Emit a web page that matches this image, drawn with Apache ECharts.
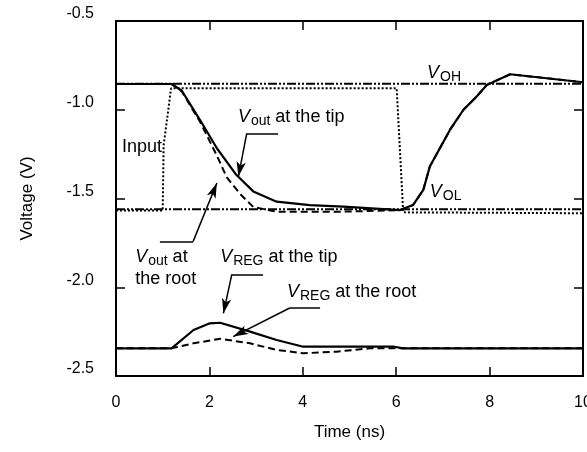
<!DOCTYPE html>
<html><head><meta charset="utf-8">
<script src="https://cdn.jsdelivr.net/npm/echarts@6/dist/echarts.min.js"></script>
<style>html,body{margin:0;padding:0;background:#fff;overflow:hidden}#c{width:587px;height:452px}</style>
</head><body><div id="c"></div>
<script>
// Data (time in ns, voltage in V)
const xTicks = [0, 2, 4, 6, 8, 10];
const yTicks = [-2.5, -2.0, -1.5, -1.0, -0.5];
const vOutTip = [[0,-0.855],[1.19,-0.855],[1.41,-0.893],[1.80,-1.058],[2.16,-1.217],[2.58,-1.368],[2.94,-1.46],[3.44,-1.518],[4.15,-1.537],[4.86,-1.546],[6.08,-1.565],[6.36,-1.537],[6.58,-1.452],[6.72,-1.32],[7.15,-1.114],[7.44,-1.0],[7.72,-0.926],[7.94,-0.86],[8.44,-0.80],[10,-0.845]];
const vOutRoot = [[0,-0.855],[1.19,-0.855],[1.41,-0.897],[1.80,-1.068],[2.16,-1.258],[2.37,-1.38],[2.66,-1.475],[2.94,-1.548],[3.44,-1.574],[4.86,-1.574],[6.08,-1.566],[6.36,-1.537],[6.58,-1.452],[6.72,-1.32],[7.15,-1.114],[7.44,-1.0],[7.72,-0.926],[7.94,-0.86],[8.44,-0.80],[10,-0.845]];
const inputV = [[0,-1.568],[1.0,-1.568],[1.02,-1.2],[1.18,-0.879],[6.01,-0.879],[6.15,-1.578],[10,-1.583]];
const vOH = [[0,-0.853],[10,-0.853]];
const vOL = [[0,-1.561],[10,-1.561]];
const vRegTip = [[0,-2.344],[1.19,-2.344],[1.66,-2.241],[2.01,-2.203],[2.23,-2.2],[2.87,-2.25],[3.44,-2.297],[4.01,-2.335],[5.96,-2.335],[6.15,-2.344],[10,-2.344]];
const vRegRoot = [[0,-2.344],[1.19,-2.344],[1.66,-2.316],[2.23,-2.29],[2.87,-2.316],[3.44,-2.353],[4.01,-2.372],[4.72,-2.363],[5.44,-2.344],[10,-2.344]];

// Annotations: [text (rich), t, v] anchor = left edge, vertical middle
const annotations = [
  ['{v|V}{s|OH}', 6.66, -0.793],
  ['{v|V}{s|out}{t| at the tip}', 2.61, -1.041],
  ['{t|Input}', 0.13, -1.21],
  ['{v|V}{s|OL}', 6.72, -1.463],
  ['{v|V}{s|out}{t| at}', 0.41, -1.83],
  ['{t|the root}', 0.41, -1.955],
  ['{v|V}{s|REG}{t| at the tip}', 2.23, -1.83],
  ['{v|V}{s|REG}{t| at the root}', 3.66, -2.027]
];
// Leader lines: [from, to, arrow at end?]
const leaders = [
  [[3.47,-1.133],[2.80,-1.133],false],
  [[2.80,-1.133],[2.62,-1.377],true],
  [[0.94,-1.743],[1.65,-1.743],false],
  [[1.65,-1.743],[2.16,-1.413],true],
  [[3.15,-1.927],[2.48,-1.927],false],
  [[2.48,-1.927],[2.30,-2.147],true],
  [[4.37,-2.117],[3.72,-2.117],false],
  [[3.72,-2.117],[2.51,-2.278],true]
];

const FONT = '"Liberation Sans", Arial, Helvetica, sans-serif';
const chart = echarts.init(document.getElementById('c'), null, {renderer:'canvas', width:587, height:452});
const axisCommon = {
  type:'value', axisLine:{show:true, onZero:false, lineStyle:{color:'#000', width:2}},
  axisTick:{show:true, inside:true, length:9, lineStyle:{color:'#000', width:1.5}},
  splitLine:{show:false}
};
function lineSeries(name, data, type, width, dash) {
  return {name, type:'line', data, showSymbol:false, symbol:'none', animation:false, silent:true,
    lineStyle:{color:'#000', width, type: dash || type}, z: 3};
}
const markLineData = leaders.map(l => [
  {coord:l[0], symbol:'none'},
  {coord:l[1], symbol: l[2] ? 'arrow' : 'none'}
]);
chart.setOption({
  animation:false,
  grid:{left:116, right:4, top:21, bottom:76, containLabel:false, outerBoundsMode:'none'},
  xAxis:[
    Object.assign({}, axisCommon, {min:0, max:10, interval:2, position:'bottom',
      name:'Time (ns)', nameLocation:'middle', nameGap:48,
      nameTextStyle:{fontFamily:FONT, fontSize:17, color:'#000'},
      axisLabel:{margin:19, fontFamily:FONT, fontSize:16, color:'#000'}}),
    Object.assign({}, axisCommon, {min:0, max:10, interval:2, position:'top', axisLabel:{show:false}})
  ],
  yAxis:[
    Object.assign({}, axisCommon, {min:-2.5, max:-0.5, interval:0.5, position:'left',
      name:'Voltage (V)', nameLocation:'middle', nameGap:80, nameRotate:90,
      nameTextStyle:{fontFamily:FONT, fontSize:17, color:'#000'},
      axisLabel:{margin:22, fontFamily:FONT, fontSize:16, color:'#000',
        verticalAlign:'bottom', lineHeight:14,
        formatter: v => v.toFixed(1)}}),
    Object.assign({}, axisCommon, {min:-2.5, max:-0.5, interval:0.5, position:'right', axisLabel:{show:false}})
  ],
  series:[
    lineSeries('VOH', vOH, null, 2, [9,2,2,2,2,2]),
    lineSeries('VOL', vOL, null, 2, [9,2,2,2,2,2]),
    lineSeries('Input', inputV, null, 2, [2,2]),
    lineSeries('Vout root', vOutRoot, null, 2, [7,4]),
    lineSeries('VREG root', vRegRoot, null, 2, [7,4]),
    lineSeries('Vout tip', vOutTip, 'solid', 2.2),
    Object.assign(lineSeries('VREG tip', vRegTip, 'solid', 2.2), {
      markLine:{silent:true, animation:false, symbolSize:[7,15], label:{show:false},
        lineStyle:{color:'#000', width:1.5, type:'solid'}, emphasis:{disabled:true},
        data: markLineData}
    })
  ]
});
const rich = {
  v:{fontFamily:FONT, fontSize:18, fontStyle:'italic', color:'#000'},
  s:{fontFamily:FONT, fontSize:14, color:'#000', padding:[9,0,0,1]},
  t:{fontFamily:FONT, fontSize:18, color:'#000'}
};
chart.setOption({
  graphic: annotations.map(a => {
    const p = chart.convertToPixel({xAxisIndex:0, yAxisIndex:0}, [a[1], a[2]]);
    return {type:'text', x:p[0], y:p[1], silent:true, z:10,
      style:{text:a[0], rich, align:'left', verticalAlign:'middle', fill:'#000'}};
  })
});
</script></body></html>
